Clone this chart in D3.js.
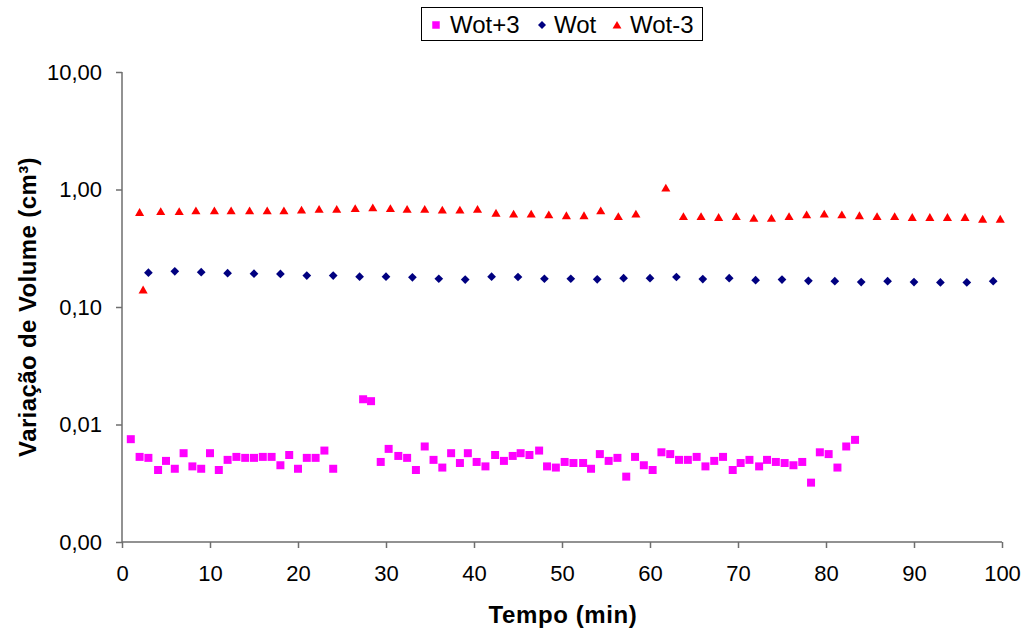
<!DOCTYPE html>
<html>
<head>
<meta charset="utf-8">
<script src="https://cdn.jsdelivr.net/npm/d3@7"></script>
<style>
  html, body { margin: 0; padding: 0; background: #fff; }
  svg { display: block; font-family: "Liberation Sans", Arial, sans-serif; }
</style>
</head>
<body>
<svg id="chart" width="1023" height="630"></svg>
<script>
// ---------- DATA ----------
const seriesNames = ["Wot+3", "Wot", "Wot-3"];

const timeWotPlus3 = [1.0, 2.0, 3.0, 4.1, 5.0, 6.0, 7.0, 8.0, 9.0, 10.0, 11.0, 12.0, 13.0, 14.0, 15.0, 16.0, 17.0, 18.0, 19.0, 20.0, 21.0, 22.0, 23.0, 24.0,
  27.4, 28.3, 29.4, 30.3, 31.4, 32.4, 33.4, 34.4, 35.4, 36.4, 37.4, 38.4, 39.3, 40.3, 41.3, 42.4, 43.4, 44.4, 45.3, 46.3, 47.4, 48.3, 49.3, 50.3,
  51.3, 52.4, 53.3, 54.3, 55.3, 56.3, 57.3, 58.3, 59.3, 60.3, 61.3, 62.3, 63.3, 64.3, 65.3, 66.3, 67.3, 68.3, 69.4, 70.3, 71.3, 72.4, 73.3, 74.3,
  75.3, 76.3, 77.3, 78.3, 79.3, 80.3, 81.3, 82.3, 83.3];
const volWotPlus3 = [0.0075, 0.0053, 0.0052, 0.0041, 0.0049, 0.0042, 0.0057, 0.0044, 0.0042, 0.0057, 0.0041, 0.0050, 0.0053, 0.0052, 0.0052, 0.0053, 0.0053, 0.0045, 0.0055, 0.0042, 0.0052, 0.0052, 0.0060, 0.0042,
  0.0164, 0.0158, 0.0048, 0.0062, 0.0054, 0.0052, 0.0041, 0.0065, 0.0050, 0.0043, 0.0057, 0.0047, 0.0057, 0.0048, 0.0044, 0.0055, 0.0049, 0.0054, 0.0057, 0.0055, 0.0060, 0.0044, 0.0043, 0.0048,
  0.0047, 0.0047, 0.0042, 0.0056, 0.0049, 0.0052, 0.0036, 0.0053, 0.0045, 0.0041, 0.0058, 0.0056, 0.0050, 0.0050, 0.0053, 0.0044, 0.0049, 0.0053, 0.0041, 0.0047, 0.0050, 0.0044, 0.0050, 0.0048,
  0.0047, 0.0045, 0.0048, 0.0032, 0.0058, 0.0056, 0.0043, 0.0065, 0.0074];

const timeWot = [3, 6, 9, 12, 15, 18, 21, 24, 27, 30, 33, 36, 39, 42, 45, 48, 51, 54, 57, 60, 63, 66, 69, 72, 75, 78, 81, 84, 87, 90, 93, 96, 99];
const volWot = [0.196, 0.201, 0.198, 0.194, 0.192, 0.191, 0.185, 0.185, 0.181, 0.181, 0.179, 0.174, 0.171, 0.181, 0.180, 0.174, 0.174, 0.172, 0.176, 0.176, 0.180,
  0.173, 0.176, 0.169, 0.171, 0.167, 0.166, 0.163, 0.166, 0.163, 0.162, 0.162, 0.166];

const timeWotMinus3 = [2.0, 2.4, 4.4, 6.5, 8.4, 10.5, 12.4, 14.5, 16.5, 18.4, 20.4, 22.4, 24.4, 26.5, 28.5, 30.5, 32.4, 34.4, 36.4, 38.4, 40.4, 42.5, 44.5, 46.5, 48.5,
  50.5, 52.5, 54.4, 56.4, 58.4, 61.8, 63.8, 65.8, 67.8, 69.8, 71.8, 73.8, 75.8, 77.8, 79.8, 81.8, 83.8, 85.8, 87.8, 89.8, 91.8, 93.8, 95.8, 97.8, 99.8];
const volWotMinus3 = [0.64, 0.14, 0.65, 0.65, 0.66, 0.66, 0.66, 0.66, 0.66, 0.66, 0.67, 0.68, 0.68, 0.69, 0.70, 0.69, 0.68, 0.68, 0.67, 0.67, 0.68, 0.63, 0.62, 0.62, 0.61,
  0.60, 0.60, 0.66, 0.59, 0.62, 1.03, 0.59, 0.59, 0.58, 0.59, 0.57, 0.57, 0.59, 0.61, 0.62, 0.61, 0.60, 0.59, 0.59, 0.58, 0.58, 0.58, 0.58, 0.56, 0.56];

const xTicks = [0, 10, 20, 30, 40, 50, 60, 70, 80, 90, 100];
const yTicks = [0.001, 0.01, 0.1, 1, 10];
const xTitle = "Tempo (min)";
const yTitle = "Variação de Volume (cm³)";

// ---------- LAYOUT ----------
const svg = d3.select("#chart");
const plot = { left: 122, right: 1002, top: 72, bottom: 542 };
const axisColor = "#6e6e6e";
const fontTick = 22, fontTitle = 24, fontLegend = 24;

const x = d3.scaleLinear().domain([0, 100]).range([plot.left, plot.right]);
const y = d3.scaleLog().domain([0.001, 10]).range([plot.bottom, plot.top]);

const fmt = v => d3.format(".2f")(v).replace(".", ",");

// Axes
const gx = svg.append("g")
  .attr("transform", `translate(0,${plot.bottom})`)
  .call(d3.axisBottom(x).tickValues(xTicks).tickSize(6).tickPadding(17).tickFormat(d3.format("d")));
const gy = svg.append("g")
  .attr("transform", `translate(${plot.left},0)`)
  .call(d3.axisLeft(y).tickValues(yTicks).tickSize(6).tickPadding(14).tickFormat(fmt));

[gx, gy].forEach(g => {
  g.select(".domain").attr("stroke", axisColor).attr("stroke-width", 1.5);
  g.selectAll(".tick line").attr("stroke", axisColor).attr("stroke-width", 1.5);
  g.selectAll(".tick text").attr("fill", "#000").style("font-size", fontTick + "px")
    .style("font-family", '"Liberation Sans", Arial, sans-serif');
});
gx.select(".domain").attr("d", `M${plot.left},0H${plot.right}`);
gy.select(".domain").attr("d", `M0,${plot.bottom}V${plot.top}`);

// Titles
svg.append("text")
  .attr("x", (plot.left + plot.right) / 2 + 1).attr("y", 623)
  .attr("text-anchor", "middle").attr("font-weight", "bold")
  .style("letter-spacing", "0.6px")
  .style("font-size", fontTitle + "px").text(xTitle);
svg.append("text")
  .attr("transform", `translate(36,${(plot.top + plot.bottom) / 2}) rotate(-90)`)
  .attr("text-anchor", "middle").attr("font-weight", "bold")
  .style("letter-spacing", "0.4px")
  .style("font-size", fontTitle + "px").text(yTitle);

// Markers
const sq = d3.symbol().type(d3.symbolSquare).size(64);
const dia = d3.symbol().type(d3.symbolSquare).size(38); // rotated 45° below
const tri = d3.symbol().type(d3.symbolTriangle).size(36);

const series = [
  { name: seriesNames[0], t: timeWotPlus3, v: volWotPlus3, color: "#FF00FF", sym: sq, rot: 0, dy: 0 },
  { name: seriesNames[1], t: timeWot, v: volWot, color: "#000080", sym: dia, rot: 45, dy: 0 },
  { name: seriesNames[2], t: timeWotMinus3, v: volWotMinus3, color: "#FF0000", sym: tri, rot: 0, dy: 1 }
];

series.forEach(s => {
  svg.append("g").selectAll("path")
    .data(s.t.map((t, i) => [t, s.v[i]]))
    .join("path")
    .attr("d", s.sym)
    .attr("fill", s.color)
    .attr("transform", d => `translate(${x(d[0])},${y(d[1]) + s.dy}) rotate(${s.rot})`);
});

// Legend
const lg = svg.append("g");
lg.append("rect").attr("x", 421.5).attr("y", 7.5).attr("width", 281).attr("height", 33)
  .attr("fill", "#fff").attr("stroke", "#000").attr("stroke-width", 1);
const legendItems = [
  { sym: d3.symbol().type(d3.symbolSquare).size(56), markX: 436, textX: 450 },
  { sym: d3.symbol().type(d3.symbolSquare).size(32), markX: 542, textX: 554 },
  { sym: d3.symbol().type(d3.symbolTriangle).size(34), markX: 617, textX: 630 }
];
series.forEach((s, i) => {
  const it = legendItems[i];
  lg.append("path").attr("d", it.sym).attr("fill", s.color)
    .attr("transform", `translate(${it.markX},${25 + s.dy}) rotate(${s.rot})`);
  lg.append("text").attr("x", it.textX).attr("y", 33)
    .style("font-size", fontLegend + "px").text(s.name);
});
</script>
</body>
</html>
